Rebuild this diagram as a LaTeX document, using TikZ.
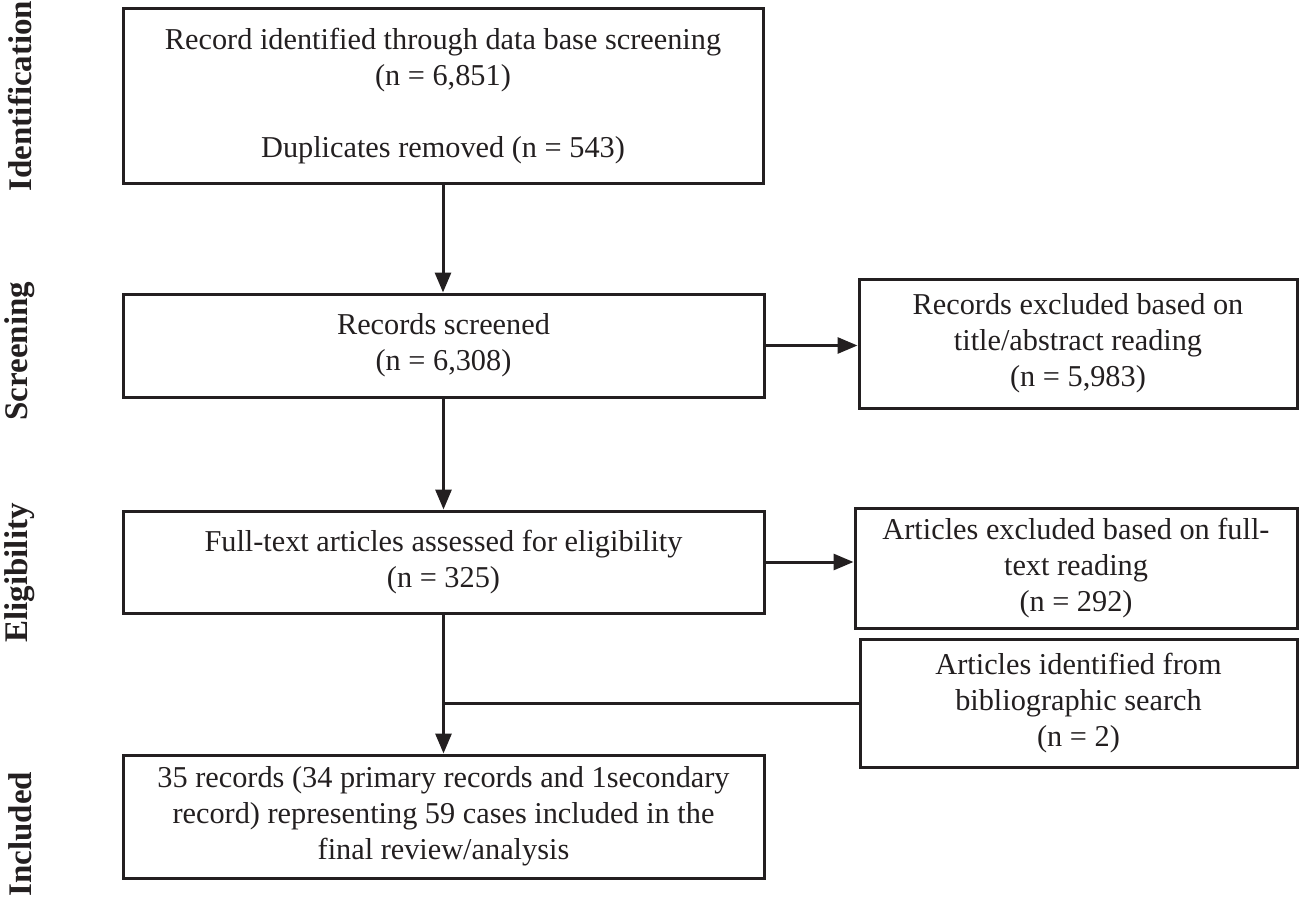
\documentclass[tikz,border=0pt]{standalone}
\usepackage{fontspec}
\setmainfont{Liberation Serif}
\usetikzlibrary{arrows.meta}
\definecolor{ink}{HTML}{231F20}
\begin{document}
\begin{tikzpicture}[x=1pt,y=-1pt,
  box/.style={draw=ink, line width=3pt, align=center, text=ink,
    font=\fontsize{30.3}{36}\selectfont, inner sep=0pt},
  lab/.style={rotate=90, font=\fontsize{33}{36}\selectfont\bfseries, text=ink, inner sep=0pt},
  arr/.style={draw=ink, line width=3pt, -{Triangle[length=20pt,width=16pt]}},
  ln/.style={draw=ink, line width=3pt}]
\useasboundingbox (0,0) rectangle (1300,899);

\node[box, minimum width=640pt, minimum height=174pt] (b1) at (443,96)
  {Record identified through data base screening\\(n = 6,851)\\[36pt]Duplicates removed (n = 543)};
\node[box, minimum width=641pt, minimum height=103pt] (b2) at (443.5,345.5)
  {Records screened\\(n = 6,308)};
\node[box, minimum width=438pt, minimum height=129pt] (b3) at (1078,343.5)
  {Records excluded based on\\title/abstract reading\\(n = 5,983)};
\node[box, minimum width=641pt, minimum height=102pt] (b4) at (443.5,562)
  {Full-text articles assessed for eligibility\\(n = 325)};
\node[box, minimum width=442pt, minimum height=120pt] (b5) at (1076,568)
  {Articles excluded based on full-\\text reading\\(n = 292)};
\node[box, minimum width=437pt, minimum height=128pt] (b6) at (1078.5,703)
  {Articles identified from\\bibliographic search\\(n = 2)};
\node[box, minimum width=641pt, minimum height=123pt] (b7) at (443.5,816.5)
  {35 records (34 primary records and 1secondary\\record) representing 59 cases included in the\\final review/analysis};

\node[lab] (l1) at (20,96) {Identification};
\node[lab] (l2) at (20,351) {Screening};
\node[lab] (l3) at (20,573) {Eligibility};
\node[lab] (l4) at (20,834) {Included};

\draw[arr] (b1.south) -- (b1.south |- b2.north);
\draw[arr] (b2.east) -- (b2.east -| b3.west);
\draw[arr] (b2.south) -- (b4.north);
\draw[arr] (b4.east) -- (b4.east -| b5.west);
\draw[arr] (b4.south) -- (b7.north);
\coordinate (j) at (b4.south |- b6.west);
\draw[ln] (j) -- (b6.west);
\end{tikzpicture}
\end{document}
